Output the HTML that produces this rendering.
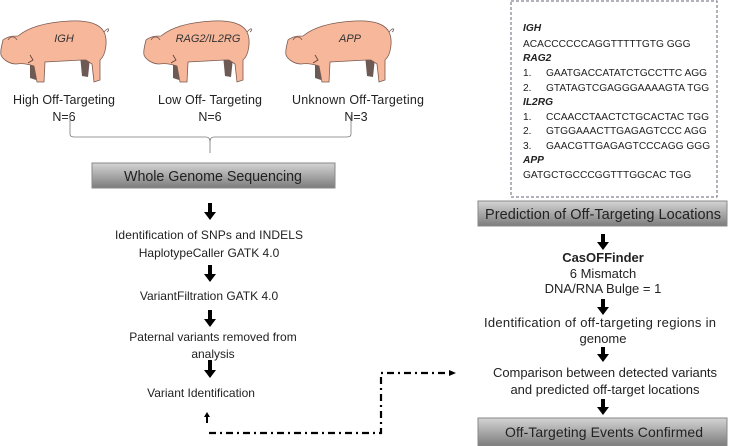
<!DOCTYPE html>
<html><head><meta charset="utf-8"><style>
html,body{margin:0;padding:0;background:#fff;}
svg{display:block;font-family:"Liberation Sans",sans-serif;}
</style></head><body>
<svg width="733" height="446" viewBox="0 0 733 446" xmlns="http://www.w3.org/2000/svg">
<defs>
<linearGradient id="g" x1="0" y1="0" x2="0" y2="1">
<stop offset="0" stop-color="#d4d4d4"/><stop offset="0.5" stop-color="#a8a8a8"/><stop offset="1" stop-color="#7c7c7c"/>
</linearGradient>
<g id="pig">
<path d="M80,55 L82,76 L88,77 L90,58 Z" fill="#6e5a55"/>
<path d="M30,60 L30,78 L36,80 L40,62 Z" fill="#6e5a55"/>
<path d="M3,40 C8,36 14,36 18,36 C30,26 50,22 70,21 C88,20 100,24 104,32 C108,40 106,55 100,60 L100,80 L94,82 L92,64 L86,60 L82,60 L45,62 L44,82 L37,82 L34,66 C28,64 22,63 16,64 C10,64 3,60 1,55 C0,50 2,45 3,40 Z" fill="#f6b79b" stroke="#7a5a50" stroke-width="0.8"/>
<path d="M104,32 C109,26 110,30 107,32" fill="none" stroke="#7a5a50" stroke-width="0.8"/>
<path d="M8,40 C10,36 15,36 17,40" fill="#f6b79b" stroke="#7a5a50" stroke-width="0.8"/>
<path d="M30,55 L33,60 L28,63" fill="none" stroke="#5a3a30" stroke-width="0.8"/>
</g>
</defs>
<use href="#pig" x="0" y="0"/>
<use href="#pig" x="143" y="0"/>
<use href="#pig" x="285" y="0"/>
<g font-style="italic" font-size="11" text-anchor="middle" fill="#333">
<text x="64" y="42">IGH</text>
<text x="208" y="42">RAG2/IL2RG</text>
<text x="350" y="42">APP</text>
</g>
<g font-size="12.5" text-anchor="middle" fill="#222">
<text x="64" y="104" textLength="102">High Off-Targeting</text>
<text x="64" y="121">N=6</text>
<text x="210" y="104" textLength="104">Low Off- Targeting</text>
<text x="210" y="121">N=6</text>
<text x="358" y="104" textLength="132">Unknown Off-Targeting</text>
<text x="356" y="121">N=3</text>
</g>
<path d="M70,115 L70,134 Q70,137 74,137 L206,137 Q210,137 210,142 L210,153 M210,142 Q210,137 214,137 L347,137 Q351,137 351,134 L351,115" fill="none" stroke="#777" stroke-width="0.8"/>
<rect x="92" y="163" width="243" height="25" fill="url(#g)" stroke="#888"/>
<text x="213" y="181" font-size="14.3" text-anchor="middle" fill="#222" textLength="178">Whole Genome Sequencing</text>
<g fill="#000">
<path d="M208,203 h4 v9 h4 l-6,8 l-6,-8 h4 z"/>
<path d="M208,265 h4 v9 h4 l-6,8 l-6,-8 h4 z"/>
<path d="M208,310 h4 v9 h4 l-6,8 l-6,-8 h4 z"/>
<path d="M208,360 h4 v10 h4 l-6,8 l-6,-8 h4 z"/>
<path d="M601,234 h4 v8 h4 l-6,8 l-6,-8 h4 z"/>
<path d="M601,299 h4 v8 h4 l-6,8 l-6,-8 h4 z"/>
<path d="M601,347 h4 v7 h4 l-6,8 l-6,-8 h4 z"/>
<path d="M601,399 h4 v8 h4 l-6,8 l-6,-8 h4 z"/>
<path d="M206,423 h2 v-6 h2 l-3,-5 l-3,5 h2 z"/>
</g>
<g font-size="12" text-anchor="middle" fill="#222">
<text x="209" y="239" textLength="188">Identification of SNPs and INDELS</text>
<text x="209" y="257">HaplotypeCaller GATK 4.0</text>
<text x="209" y="300">VariantFiltration GATK 4.0</text>
<text x="213" y="341">Paternal variants removed from</text>
<text x="213" y="358">analysis</text>
<text x="201" y="397">Variant Identification</text>
</g>
<g font-size="13" text-anchor="middle" fill="#222">
<text x="603" y="262" font-weight="bold">CasOFFinder</text>
<text x="603" y="278">6 Mismatch</text>
<text x="603" y="293">DNA/RNA Bulge = 1</text>
<text x="600" y="327" textLength="232">Identification of off-targeting regions in</text>
<text x="603" y="343">genome</text>
<text x="605" y="377" textLength="224">Comparison between detected variants</text>
<text x="605" y="394">and predicted off-target locations</text>
</g>
<path d="M209,433 L381,433 L381,373 L450,373" fill="none" stroke="#000" stroke-width="2.2" stroke-dasharray="7,4,2,4"/>
<path d="M449,370 l7,3 l-7,3 z" fill="#000"/>
<rect x="511" y="1" width="206" height="196" fill="none" stroke="#667" stroke-width="1" stroke-dasharray="3,2"/>
<g font-size="10.2" fill="#222">
<text x="523" y="31" font-weight="bold" font-style="italic">IGH</text>
<text x="523" y="47">ACACCCCCCAGGTTTTTGTG GGG</text>
<text x="523" y="61" font-weight="bold" font-style="italic">RAG2</text>
<text x="523" y="76">1.</text><text x="546" y="76">GAATGACCATATCTGCCTTC AGG</text>
<text x="523" y="91">2.</text><text x="546" y="91">GTATAGTCGAGGGAAAAGTA TGG</text>
<text x="523" y="105" font-weight="bold" font-style="italic">IL2RG</text>
<text x="523" y="120">1.</text><text x="546" y="120">CCAACCTAACTCTGCACTAC TGG</text>
<text x="523" y="134">2.</text><text x="546" y="134">GTGGAAACTTGAGAGTCCC AGG</text>
<text x="523" y="149">3.</text><text x="546" y="149">GAACGTTGAGAGTCCCAGG GGG</text>
<text x="523" y="163" font-weight="bold" font-style="italic">APP</text>
<text x="523" y="178">GATGCTGCCCGGTTTGGCAC TGG</text>
</g>
<rect x="478" y="201" width="249" height="25" fill="url(#g)" stroke="#888"/>
<text x="603" y="219" font-size="14.5" text-anchor="middle" fill="#222" textLength="236">Prediction of Off-Targeting Locations</text>
<rect x="478" y="418" width="249" height="28" fill="url(#g)" stroke="#888"/>
<text x="604" y="437" font-size="14" text-anchor="middle" fill="#222" textLength="198">Off-Targeting Events Confirmed</text>
</svg>
</body></html>
